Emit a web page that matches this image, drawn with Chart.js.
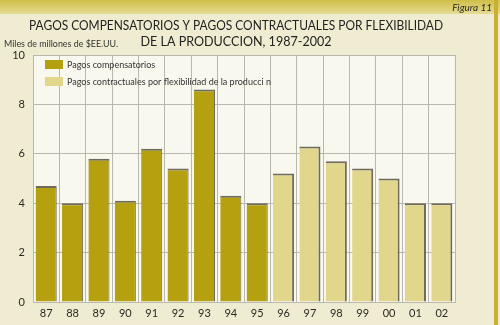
<!DOCTYPE html>
<html>
<head>
<meta charset="utf-8">
<script src="https://cdn.jsdelivr.net/npm/chart.js@4"></script>
<style>
  html, body { margin: 0; padding: 0; background: #efecd2; }
  #wrap { width: 500px; height: 325px; position: relative; }
</style>
</head>
<body>
<div id="wrap"><canvas id="chart" width="500" height="325"></canvas></div>
<script>
const years = ['87', '88', '89', '90', '91', '92', '93', '94', '95', '96', '97', '98', '99', '00', '01', '02']
const compensatorios = [4.7, 4.0, 5.8, 4.1, 6.2, 5.4, 8.6, 4.3, 4.0, null, null, null, null, null, null, null]
const contractuales = [null, null, null, null, null, null, null, null, null, 5.2, 6.3, 5.7, 5.4, 5.0, 4.0, 4.0]
const yTicks = [0, 2, 4, 6, 8, 10]

const darkColor = '#b5a010'
const lightColor = '#e2d68c'
const shadow = '#6f6b5c'
const fontFam = 'Lato, "DejaVu Sans", sans-serif'

// text fitted to a width
function fitText(ctx, text, x, y, width, size, align) {
    ctx.save()
    ctx.font = size + 'px ' + fontFam
    const w = ctx.measureText(text).width
    ctx.translate(x, y)
    ctx.scale(width / w, 1)
    ctx.textAlign = align || 'left'
    ctx.textBaseline = 'middle'
    ctx.fillText(text, 0, 0)
    ctx.restore()
}

const decor = {
    id: 'decor',
    beforeDraw(chart) {
        const ctx = chart.ctx
        const a = chart.chartArea
        ctx.save()
        // top band
        const g = ctx.createLinearGradient(0, 0, 0, 14)
        g.addColorStop(0, '#cfbf48')
        g.addColorStop(1, '#e6dc94')
        ctx.fillStyle = g
        ctx.fillRect(0, 0, 500, 14)
        // right gold edge
        ctx.fillStyle = '#c9b032'
        ctx.fillRect(494, 0, 4, 325)
        // plot background
        ctx.fillStyle = '#f9f8ee'
        ctx.fillRect(a.left, a.top, a.right - a.left, a.bottom - a.top)
        ctx.restore()
    },
    afterDraw(chart) {
        const ctx = chart.ctx
        const a = chart.chartArea
        ctx.save()
        ctx.fillStyle = '#2a2a22'
        ctx.font = 'italic 10px ' + fontFam
        ctx.textAlign = 'right'
        ctx.textBaseline = 'middle'
        ctx.fillText('Figura 11', 492, 8)
        ctx.fillStyle = '#222'
        fitText(ctx, 'PAGOS COMPENSATORIOS Y PAGOS CONTRACTUALES POR FLEXIBILIDAD', 236, 26, 414, 13, 'center')
        fitText(ctx, 'DE LA PRODUCCION, 1987-2002', 236, 42, 191, 13, 'center')
        ctx.fillStyle = '#333'
        fitText(ctx, 'Miles de millones de $EE.UU.', 4, 44, 114, 9, 'left')

        // legend inside the plot
        const items = [
            { label: chart.data.datasets[0].label, color: darkColor },
            { label: chart.data.datasets[1].label, color: lightColor }
        ]
        items.forEach((it, i) => {
            const y = a.top + 5 + i * 17
            ctx.fillStyle = it.color
            ctx.fillRect(a.left + 12, y, 18, 9)
            ctx.fillStyle = '#333'
            ctx.font = '9px ' + fontFam
            ctx.textAlign = 'left'
            ctx.textBaseline = 'middle'
            ctx.fillText(it.label, a.left + 34, y + 5)
        })
        ctx.restore()
    }
}

const chart = new Chart(document.getElementById('chart').getContext('2d'), {
    type: 'bar',
    data: {
        labels: years,
        datasets: [{
            label: 'Pagos compensatorios',
            data: compensatorios,
            backgroundColor: darkColor,
            borderColor: shadow,
            borderWidth: { top: 2, right: 1, left: 0, bottom: 0 },
            borderSkipped: false,
            barPercentage: 0.8,
            categoryPercentage: 1
        },
        {
            label: 'Pagos contractuales por flexibilidad de la producci n',
            data: contractuales,
            backgroundColor: lightColor,
            borderColor: shadow,
            borderWidth: { top: 2, right: 2, left: 0, bottom: 0 },
            borderSkipped: false,
            barPercentage: 0.8,
            categoryPercentage: 1
        }]
    },
    options: {
        responsive: false,
        animation: false,
        layout: { padding: { top: 55, right: 45, left: 0, bottom: 0 } },
        plugins: {
            legend: { display: false },
            tooltip: { enabled: false }
        },
        scales: {
            x: {
                stacked: true,
                grid: { color: '#b9b8ae', lineWidth: 1, offset: true, drawTicks: false },
                border: { color: '#b9b8ae' },
                ticks: { color: '#2a2a22', font: { size: 11, family: fontFam }, padding: 5 },
                afterFit(s) { s.height = 23 }
            },
            y: {
                min: 0,
                max: 10,
                afterBuildTicks(s) { s.ticks = yTicks.map(v => ({ value: v })) },
                grid: { color: '#b9b8ae', lineWidth: 1, drawTicks: false },
                border: { display: false },
                ticks: { color: '#2a2a22', font: { size: 11, family: fontFam }, padding: 8 },
                afterFit(s) { s.width = 33 }
            }
        }
    },
    plugins: [decor]
})
</script>
</body>
</html>
